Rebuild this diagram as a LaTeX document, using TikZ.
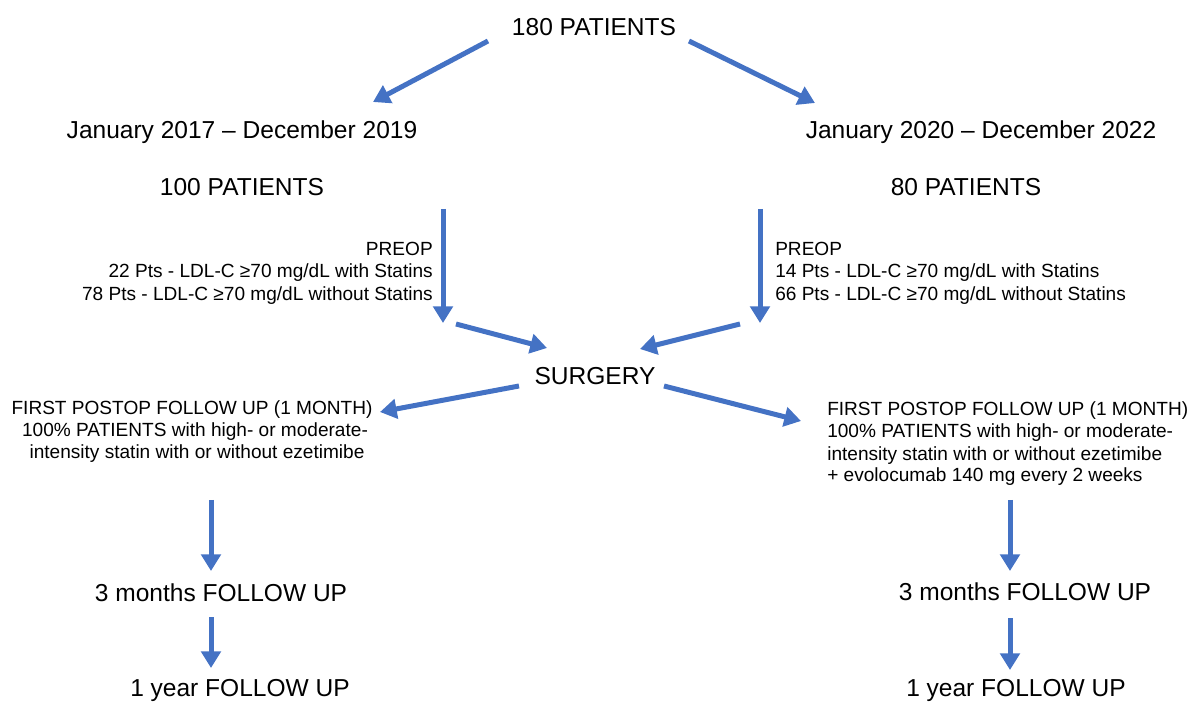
\documentclass[tikz,border=0pt]{standalone}
\usepackage{fontspec}
\setmainfont{Liberation Sans}
\usetikzlibrary{arrows.meta}
\definecolor{arrowblue}{HTML}{4472C4}
\tikzset{
  big/.style={font=\fontsize{18.4pt}{22pt}\selectfont, inner sep=0pt, anchor=base},
  small/.style={font=\fontsize{14.3pt}{17pt}\selectfont, inner sep=0pt, anchor=base},
  flow/.style={draw=arrowblue, line width=3.75pt, -{Triangle[length=12.5pt,width=14.5pt]}}
}
\begin{document}
\begin{tikzpicture}[x=0.75pt,y=-0.75pt]
\useasboundingbox (0,0) rectangle (1190,702);
% texts
\node[big] (total) at (594,36) {180 PATIENTS};
\node[big] (perL) at (242,139) {January 2017 – December 2019};
\node[big] (perR) at (981,139) {January 2020 – December 2022};
\node[big] (nL) at (242,196) {100 PATIENTS};
\node[big] (nR) at (966,196) {80 PATIENTS};
\node[small,anchor=base east] (preL1) at (433,256) {PREOP};
\node[small,anchor=base east] (preL2) at (433,278) {22 Pts - LDL-C ≥70 mg/dL with Statins};
\node[small,anchor=base east] (preL3) at (433,301) {78 Pts - LDL-C ≥70 mg/dL without Statins};
\node[small,anchor=base west] (preR1) at (775,256) {PREOP};
\node[small,anchor=base west] (preR2) at (775,278) {14 Pts - LDL-C ≥70 mg/dL with Statins};
\node[small,anchor=base west] (preR3) at (775,301) {66 Pts - LDL-C ≥70 mg/dL without Statins};
\node[big] (surg) at (595,385) {SURGERY};
\node[small] (fuL1) at (192,415) {FIRST POSTOP FOLLOW UP (1 MONTH)};
\node[small] (fuL2) at (195,437) {100\% PATIENTS with high- or moderate-};
\node[small] (fuL3) at (197,459) {intensity statin with or without ezetimibe};
\node[small,anchor=base west] (fuR1) at (827,416) {FIRST POSTOP FOLLOW UP (1 MONTH)};
\node[small,anchor=base west] (fuR2) at (827,438) {100\% PATIENTS with high- or moderate-};
\node[small,anchor=base west] (fuR3) at (827,460) {intensity statin with or without ezetimibe};
\node[small,anchor=base west] (fuR4) at (827,482) {+ evolocumab 140 mg every 2 weeks};
\node[big] (m3L) at (221,601) {3 months FOLLOW UP};
\node[big] (m3R) at (1025,600) {3 months FOLLOW UP};
\node[big] (y1L) at (240,696) {1 year FOLLOW UP};
\node[big] (y1R) at (1016,696) {1 year FOLLOW UP};
% arrow end points
\coordinate (a1s) at (488,41);  \coordinate (a1e) at (373,102);
\coordinate (a2s) at (689,41);  \coordinate (a2e) at (815,103);
\coordinate (a3s) at (443,209); \coordinate (a3e) at (443,323);
\coordinate (a4s) at (760,209); \coordinate (a4e) at (760,323);
\coordinate (a5s) at (456,324); \coordinate (a5e) at (547,348);
\coordinate (a6s) at (740,324); \coordinate (a6e) at (640,349);
\coordinate (a7s) at (519,386); \coordinate (a7e) at (380,412);
\coordinate (a8s) at (664,386); \coordinate (a8e) at (801,421);
\coordinate (a9s) at (211,500); \coordinate (a9e) at (211,571);
\coordinate (a10s) at (1010,500); \coordinate (a10e) at (1010,571);
\coordinate (a11s) at (211,617); \coordinate (a11e) at (211,668);
\coordinate (a12s) at (1010,618); \coordinate (a12e) at (1010,670);
\foreach \i in {1,...,12} {\draw[flow] (a\i s) -- (a\i e);}
\end{tikzpicture}
\end{document}
